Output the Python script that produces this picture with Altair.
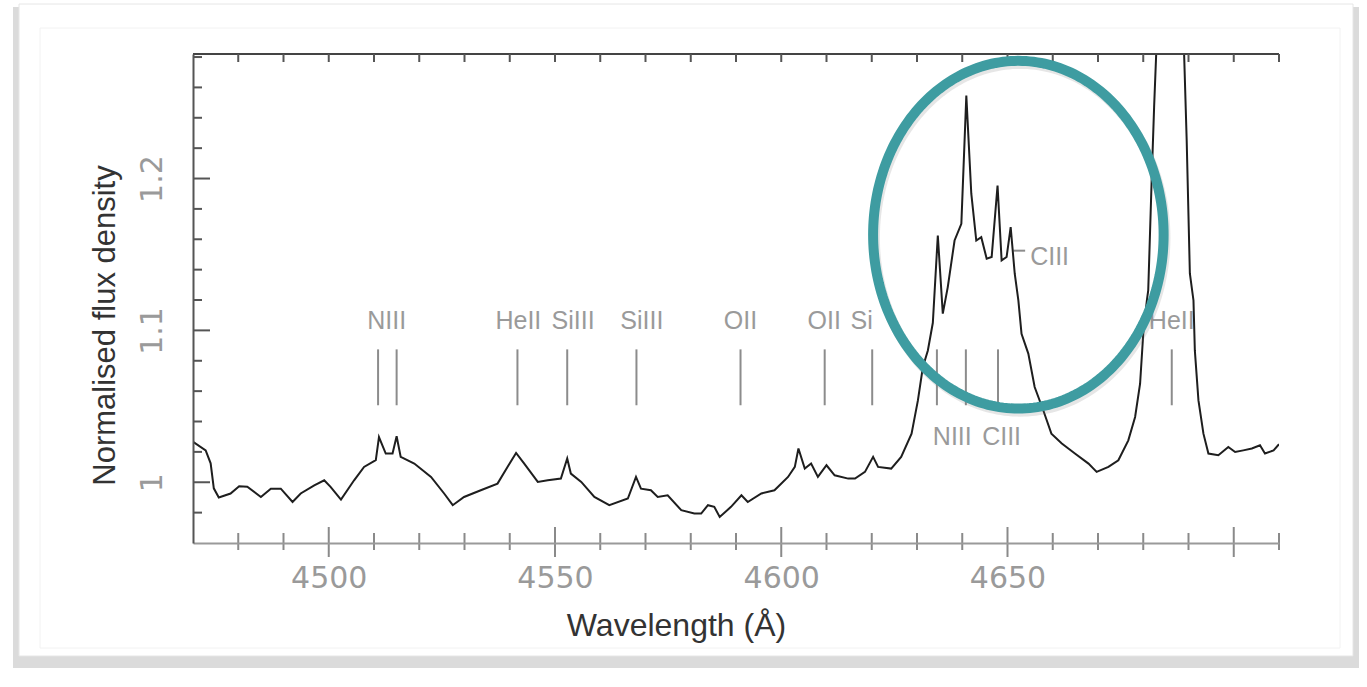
import altair as alt
import pandas as pd
import numpy as np

# ---------------- data ----------------
wavelength = [4470.1, 4472.8, 4473.9, 4474.6, 4475.7, 4478.3, 4480.2, 4482.0, 4485.0, 4487.2,
              4489.4, 4492.0, 4493.8, 4496.8, 4499.0, 4500.4, 4502.7, 4505.6, 4507.8, 4510.4,
              4511.1, 4512.6, 4514.1, 4515.0, 4515.9, 4518.9, 4522.6, 4525.5, 4527.4, 4529.9,
              4533.6, 4537.3, 4539.5, 4541.4, 4543.2, 4546.2, 4548.4, 4551.3, 4552.7, 4553.5,
              4555.8, 4558.7, 4562.0, 4566.1, 4567.9, 4569.0, 4571.2, 4572.7, 4574.9, 4577.9,
              4580.8, 4582.3, 4583.8, 4585.2, 4586.4, 4588.9, 4591.2, 4592.6, 4595.6, 4598.5,
              4601.5, 4603.0, 4603.8, 4605.2, 4606.6, 4608.1, 4610.0, 4611.8, 4614.8, 4616.3,
              4618.5, 4620.3, 4621.4, 4624.3, 4626.5, 4628.8, 4630.2, 4631.3, 4632.4, 4633.5,
              4634.6, 4635.7, 4636.8, 4638.3, 4639.8, 4640.9, 4642.0, 4643.1, 4644.2, 4645.4,
              4646.5, 4647.8, 4648.7, 4649.8, 4650.7, 4651.6, 4652.4, 4653.1, 4654.6, 4656.0,
              4657.9, 4659.7, 4662.0, 4664.9, 4667.9, 4669.7, 4672.3, 4674.5, 4676.7, 4678.2,
              4679.3, 4680.0, 4680.8, 4681.1, 4681.9, 4682.4, 4682.9, 4684.0, 4686.0, 4688.0,
              4689.0, 4689.6, 4690.3, 4691.1, 4691.4, 4692.2, 4693.3, 4694.4, 4696.6, 4698.8,
              4700.3, 4702.1, 4704.0, 4705.8, 4706.9, 4708.8, 4710.0]
flux = [1.0265, 1.0210, 1.0125, 0.9960, 0.9900, 0.9926, 0.9974, 0.9970, 0.9903, 0.9958,
        0.9958, 0.9870, 0.9926, 0.9980, 1.0013, 0.9970, 0.9886, 1.0013, 1.0101, 1.0145,
        1.0298, 1.0189, 1.0189, 1.0303, 1.0167, 1.0123, 1.0035, 0.9926, 0.9849, 0.9903,
        0.9947, 0.9991, 1.0101, 1.0193, 1.0123, 1.0002, 1.0013, 1.0024, 1.0156, 1.0057,
        1.0002, 0.9903, 0.9849, 0.9893, 1.0035, 0.9958, 0.9947, 0.9903, 0.9914, 0.9816,
        0.9794, 0.9794, 0.9849, 0.9838, 0.9772, 0.9838, 0.9914, 0.9870, 0.9926, 0.9947,
        1.0035, 1.0101, 1.0222, 1.0090, 1.0123, 1.0035, 1.0112, 1.0046, 1.0024, 1.0024,
        1.0068, 1.0167, 1.0101, 1.0090, 1.0167, 1.0320, 1.0539, 1.0759, 1.0868, 1.1050,
        1.1625, 1.1110, 1.1285, 1.1592, 1.1702, 1.2546, 1.1900, 1.1592, 1.1614, 1.1472,
        1.1483, 1.1954, 1.1461, 1.1483, 1.1680, 1.1373, 1.1197, 1.0978, 1.0847, 1.0627,
        1.0474, 1.0320, 1.0255, 1.0189, 1.0123, 1.0068, 1.0101, 1.0145, 1.0276, 1.0430,
        1.0649, 1.0978, 1.1197, 1.1263, 1.2030, 1.2470, 1.2850, 1.4000, 1.4500, 1.4000,
        1.2850, 1.2250, 1.1375, 1.1197, 1.0868, 1.0539, 1.0320, 1.0189, 1.0178, 1.0232,
        1.0199, 1.0210, 1.0222, 1.0243, 1.0189, 1.0210, 1.0250]

# line identification markers
marker_wl = [4510.9, 4515.0, 4541.7, 4552.7, 4568.0, 4591.0, 4609.6, 4620.1,
             4634.4, 4640.8, 4647.9, 4686.3]
# labels above the markers
label_text = ["NIII", "HeII", "SiIII", "SiIII", "OII", "OII", "Si", "HeII"]
label_wl = [4512.8, 4541.9, 4554.0, 4569.2, 4591.0, 4609.5, 4615.3, 4686.3]
label_align = ["center", "center", "center", "center", "center", "center", "left", "center"]
# labels below the peak
low_text = ["NIII", "CIII"]
low_wl = [4637.8, 4648.7]
ciii_text = ["CIII"]
ciii_wl = [4655.0]

x_labels = [4500, 4550, 4600, 4650]
x_major = [4500, 4550, 4600, 4650, 4700]
x_minor = [4480, 4490, 4510, 4520, 4530, 4540, 4560, 4570, 4580, 4590,
           4610, 4620, 4630, 4640, 4660, 4670, 4680, 4690, 4710]
y_major = [1.0, 1.1, 1.2]
y_minor = [0.98, 1.02, 1.04, 1.06, 1.08, 1.12, 1.14, 1.16, 1.18, 1.22, 1.24, 1.26, 1.28]

# ---------------- layout ----------------
W, H = 1086, 489
LEFT, TOP = 193, 54
XD = [4470, 4710]
YD = [0.96, 1.282]
xs = alt.Scale(domain=XD, nice=False, zero=False)
ys = alt.Scale(domain=YD, nice=False, zero=False)

LBL_FONT = "Liberation Sans"
one = pd.DataFrame({"k": [0]})

# card frame
shadow = alt.Chart(one).mark_rect(fill="#d2d2d2", opacity=0.8).encode(
    x=alt.value(13 - LEFT), x2=alt.value(1359 - LEFT),
    y=alt.value(7 - TOP), y2=alt.value(668 - TOP))
card = alt.Chart(one).mark_rect(fill="white", stroke="#e6e6e6", strokeWidth=1).encode(
    x=alt.value(19 - LEFT), x2=alt.value(1353 - LEFT),
    y=alt.value(4 - TOP), y2=alt.value(656 - TOP))
inner = alt.Chart(one).mark_rect(fill="white", stroke="#f2f2f2", strokeWidth=1).encode(
    x=alt.value(40 - LEFT), x2=alt.value(1340 - LEFT),
    y=alt.value(28 - TOP), y2=alt.value(648 - TOP))

spec_df = pd.DataFrame({"wl": wavelength, "flux": flux, "i": range(len(flux))})

base_x_axis = alt.Axis(values=x_labels, format="d", tickSize=0, grid=False, zindex=1,
                       labelFont="DejaVu Sans", labelFontSize=30, labelColor="#9a9a9a",
                       labelPadding=20, labelBaseline="top",
                       domainColor="#9a9a9a", domainWidth=2,
                       title="Wavelength (Å)", titleFont=LBL_FONT, titleFontSize=32,
                       titleFontWeight="normal", titleColor="#333333",
                       titleX=483, titleY=82, titleBaseline="middle", titleAlign="center")
base_y_axis = alt.Axis(values=y_major, format=".1~f", tickSize=0, grid=False, zindex=1,
                       labelFont="DejaVu Sans", labelFontSize=30, labelColor="#9a9a9a",
                       labelAngle=270, labelAlign="center", labelBaseline="bottom",
                       labelPadding=26, domainColor="#555555", domainWidth=2,
                       title="Normalised flux density", titleFont=LBL_FONT, titleFontSize=31,
                       titleFontWeight="normal", titleColor="#333333", titleAngle=270,
                       titleX=-88, titleY=271, titleBaseline="middle", titleAlign="center")

spectrum = alt.Chart(spec_df).mark_line(color="#1e1e1e", strokeWidth=2, clip=True).encode(
    x=alt.X("wl:Q", scale=xs, axis=base_x_axis),
    y=alt.Y("flux:Q", scale=ys, axis=base_y_axis),
    order="i:Q")

mk_df = pd.DataFrame({"wl": marker_wl, "y1": [1.0507] * len(marker_wl), "y2": [1.0875] * len(marker_wl)})
markers = alt.Chart(mk_df).mark_rule(color="#8c8c8c", strokeWidth=2).encode(
    x=alt.X("wl:Q", scale=xs, axis=base_x_axis), y=alt.Y("y1:Q", scale=ys, axis=base_y_axis),
    y2="y2:Q")

lab_df = pd.DataFrame({"t": label_text, "wl": label_wl, "y": [1.106] * len(label_text),
                       "al": label_align})
labels_c = alt.Chart(lab_df[lab_df.al == "center"]).mark_text(
    font=LBL_FONT, fontSize=25, color="#9a9a9a", baseline="middle", align="center").encode(
    x=alt.X("wl:Q", scale=xs), y=alt.Y("y:Q", scale=ys), text="t:N")
labels_l = alt.Chart(lab_df[lab_df.al == "left"]).mark_text(
    font=LBL_FONT, fontSize=25, color="#9a9a9a", baseline="middle", align="left").encode(
    x=alt.X("wl:Q", scale=xs), y=alt.Y("y:Q", scale=ys), text="t:N")

low_df = pd.DataFrame({"t": low_text, "wl": low_wl, "y": [1.0296] * len(low_text)})
labels_low = alt.Chart(low_df).mark_text(
    font=LBL_FONT, fontSize=25, color="#9a9a9a", baseline="middle", align="center").encode(
    x=alt.X("wl:Q", scale=xs), y=alt.Y("y:Q", scale=ys), text="t:N")

ciii_df = pd.DataFrame({"t": ciii_text, "wl": ciii_wl, "y": [1.148]})
label_ciii = alt.Chart(ciii_df).mark_text(
    font=LBL_FONT, fontSize=25, color="#9a9a9a", baseline="middle", align="left").encode(
    x=alt.X("wl:Q", scale=xs), y=alt.Y("y:Q", scale=ys), text="t:N")
dash_df = pd.DataFrame({"a": [4651.3], "b": [4653.9], "y": [1.1525]})
dash = alt.Chart(dash_df).mark_rule(color="#8c8c8c", strokeWidth=2).encode(
    x=alt.X("a:Q", scale=xs), x2="b:Q", y=alt.Y("y:Q", scale=ys))

# inward / crossing ticks
top_df = pd.DataFrame({"wl": sorted(x_major + x_minor)})
top_ticks = alt.Chart(top_df).mark_rule(color="#555555", strokeWidth=2).encode(
    x=alt.X("wl:Q", scale=xs), y=alt.value(0), y2=alt.value(8))
top_line = alt.Chart(one).mark_rule(color="#444444", strokeWidth=2).encode(
    x=alt.value(0), x2=alt.value(W), y=alt.value(0))
bmin = alt.Chart(pd.DataFrame({"wl": x_minor})).mark_rule(color="#8a8a8a", strokeWidth=2).encode(
    x=alt.X("wl:Q", scale=xs), y=alt.value(H - 10), y2=alt.value(H + 7))
bmaj = alt.Chart(pd.DataFrame({"wl": x_major})).mark_rule(color="#8a8a8a", strokeWidth=2).encode(
    x=alt.X("wl:Q", scale=xs), y=alt.value(H - 16), y2=alt.value(H + 14))
lmin = alt.Chart(pd.DataFrame({"f": y_minor})).mark_rule(color="#555555", strokeWidth=2).encode(
    y=alt.Y("f:Q", scale=ys), x=alt.value(0), x2=alt.value(9))
lmaj = alt.Chart(pd.DataFrame({"f": y_major})).mark_rule(color="#555555", strokeWidth=2).encode(
    y=alt.Y("f:Q", scale=ys), x=alt.value(0), x2=alt.value(17))

# highlight ellipse annotation (centre and radii in data units)
ell_cx, ell_cy, ell_rx, ell_ry = 4652.4, 1.163, 32.1, 0.1145
th = np.linspace(0, 2 * np.pi, 241)
ell_df = pd.DataFrame({"wl": ell_cx + ell_rx * np.cos(th),
                       "f": ell_cy + ell_ry * np.sin(th), "i": range(len(th))})
ell_sh_df = pd.DataFrame({"wl": ell_df.wl + 0.4, "f": ell_df.f - 0.002, "i": ell_df.i})
ell_shadow = alt.Chart(ell_sh_df).mark_line(color="#777777", strokeWidth=10, opacity=0.18).encode(
    x=alt.X("wl:Q", scale=xs), y=alt.Y("f:Q", scale=ys), order="i:Q")
ellipse = alt.Chart(ell_df).mark_line(color="#3e9ca1", strokeWidth=10).encode(
    x=alt.X("wl:Q", scale=xs), y=alt.Y("f:Q", scale=ys), order="i:Q")

chart = alt.layer(
    shadow, card, inner, markers, labels_c, labels_l, labels_low, label_ciii, dash,
    spectrum, top_line, top_ticks, bmin, bmaj, lmin, lmaj, ell_shadow, ellipse
).properties(
    width=W, height=H, autosize="none",
    padding={"left": LEFT, "top": TOP, "right": 1367 - LEFT - W, "bottom": 687 - TOP - H},
    background="white"
).configure_view(stroke=None)

chart.save("out.html", embed_options={"renderer": "svg", "actions": False})
